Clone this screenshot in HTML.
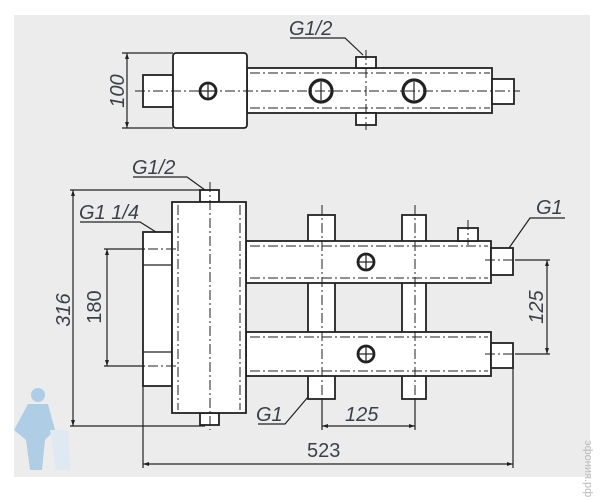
<!DOCTYPE html>
<html><head><meta charset="utf-8"><style>
html,body{margin:0;padding:0;background:#fff;}
svg{display:block;}
text{font-family:"Liberation Sans",sans-serif;fill:#3a3f4a;font-style:italic;}
</style></head><body>
<svg width="604" height="500" viewBox="0 0 604 500" xmlns="http://www.w3.org/2000/svg">
<rect x="14" y="15" width="576" height="462" fill="#ececec"/>
<g fill="#fff" stroke="#222" stroke-width="1.8">
<rect x="143" y="75" width="30" height="32"/>
<rect x="247" y="68" width="245" height="45"/>
<rect x="173" y="53" width="74" height="75" rx="3"/>
<rect x="356" y="57" width="20" height="11"/>
<rect x="356" y="113" width="20" height="12"/>
<rect x="492" y="79" width="22" height="25"/>
<circle cx="208" cy="91" r="8" stroke-width="2.8"/>
<circle cx="321" cy="91" r="11" stroke-width="3.2"/>
<circle cx="414" cy="91" r="11" stroke-width="3.2"/>
<rect x="143" y="232" width="29" height="154"/>
<rect x="308" y="215" width="27" height="184"/>
<rect x="402" y="215" width="24" height="184"/>
<rect x="246" y="241" width="245" height="42"/>
<rect x="246" y="332" width="245" height="44"/>
<rect x="458" y="228" width="20" height="13"/>
<rect x="491" y="248" width="22" height="27"/>
<rect x="491" y="343" width="22" height="25"/>
<rect x="200" y="190" width="19" height="12"/>
<rect x="200" y="413" width="19" height="12"/>
<rect x="172" y="202" width="74" height="211"/>
<circle cx="366" cy="262" r="8" stroke-width="2.8"/>
<circle cx="366" cy="354" r="8" stroke-width="2.8"/>
</g>
<g stroke="#222" stroke-width="1.2" fill="none">
<line x1="143" y1="265" x2="172" y2="265"/><line x1="143" y1="352" x2="172" y2="352"/>
<line x1="208" y1="83" x2="208" y2="99"/><line x1="200" y1="91" x2="216" y2="91"/>
<line x1="321" y1="82" x2="321" y2="100"/><line x1="414" y1="82" x2="414" y2="100"/>
<line x1="366" y1="254" x2="366" y2="270"/><line x1="358" y1="262" x2="374" y2="262"/>
<line x1="366" y1="346" x2="366" y2="362"/><line x1="358" y1="354" x2="374" y2="354"/>
<g stroke-dasharray="10,3,2,3" stroke-width="1">
<line x1="135" y1="91" x2="520" y2="91"/>
<line x1="366" y1="50" x2="366" y2="130"/>
<line x1="250" y1="73" x2="490" y2="73"/><line x1="250" y1="108" x2="490" y2="108"/>
<line x1="210" y1="182" x2="210" y2="430"/>
<line x1="322" y1="205" x2="322" y2="405"/>
<line x1="415" y1="205" x2="415" y2="405"/>
<line x1="468" y1="220" x2="468" y2="245"/>
<line x1="178" y1="205" x2="178" y2="410"/><line x1="240" y1="205" x2="240" y2="410"/>
<line x1="250" y1="246" x2="488" y2="246"/><line x1="250" y1="278" x2="488" y2="278"/>
<line x1="250" y1="337" x2="488" y2="337"/><line x1="250" y1="371" x2="488" y2="371"/>
<line x1="148" y1="249" x2="178" y2="249"/><line x1="148" y1="366" x2="178" y2="366"/>
<line x1="485" y1="260" x2="525" y2="260"/><line x1="485" y1="354" x2="525" y2="354"/>
</g>
<line x1="127" y1="53" x2="127" y2="128"/>
<line x1="122" y1="53" x2="173" y2="53"/><line x1="122" y1="128" x2="173" y2="128"/>
<line x1="73" y1="190" x2="73" y2="426"/>
<line x1="70" y1="190" x2="205" y2="190"/><line x1="70" y1="426" x2="205" y2="426"/>
<line x1="107" y1="249" x2="107" y2="366"/>
<line x1="104" y1="249" x2="145" y2="249"/><line x1="104" y1="366" x2="145" y2="366"/>
<line x1="547" y1="260" x2="547" y2="354"/>
<line x1="515" y1="260" x2="550" y2="260"/><line x1="515" y1="354" x2="550" y2="354"/>
<line x1="143" y1="386" x2="143" y2="468"/><line x1="513" y1="368" x2="513" y2="468"/>
<line x1="143" y1="464" x2="513" y2="464"/>
<line x1="322" y1="399" x2="322" y2="430"/><line x1="415" y1="399" x2="415" y2="430"/>
<line x1="322" y1="426" x2="415" y2="426"/>
<polyline points="290,38 345,38 363,55"/>
<polyline points="133,177 187,177 205,190"/>
<polyline points="80,222 140,222 156,232"/>
<polyline points="565,218 530,218 509,248"/>
<polyline points="258,424 285,424 308,397"/>
</g>
<g fill="#222">
<polygon points="127,53 125,59 129,59"/><polygon points="127,128 125,122 129,122"/>
<polygon points="73,190 71,196 75,196"/><polygon points="73,426 71,420 75,420"/>
<polygon points="107,249 105,255 109,255"/><polygon points="107,366 105,360 109,360"/>
<polygon points="547,260 545,266 549,266"/><polygon points="547,354 545,348 549,348"/>
<polygon points="143,464 149,462 149,466"/><polygon points="513,464 507,462 507,466"/>
<polygon points="322,426 328,424 328,428"/><polygon points="415,426 409,424 409,428"/>
</g>
<g font-size="20">
<text x="289" y="35">G1/2</text>
<text x="132" y="174">G1/2</text>
<text x="79" y="219">G1 1/4</text>
<text x="536" y="214">G1</text>
<text x="256" y="421">G1</text>
<text x="345" y="421">125</text>
<text x="307" y="457" style="font-style:normal">523</text>
<text transform="translate(124,91) rotate(-90)" text-anchor="middle">100</text>
<text transform="translate(70,310) rotate(-90)" text-anchor="middle">316</text>
<text transform="translate(101,307) rotate(-90)" text-anchor="middle" style="font-style:normal">180</text>
<text transform="translate(543,307) rotate(-90)" text-anchor="middle">125</text>
</g>
<g fill="#a9cbe6" opacity="0.9">
<circle cx="38" cy="395" r="7"/>
<path d="M28,404 L48,404 L55,430 L45,440 L42,470 L30,470 L26,440 L14,430 Z"/>
<path d="M50,430 L68,430 L70,470 L56,470 Z" fill="#dde9f3"/>
</g>
<text transform="translate(585,440) rotate(90)" font-size="11" style="fill:#bbb;font-style:normal">эфония.рф</text>
</svg>
</body></html>
